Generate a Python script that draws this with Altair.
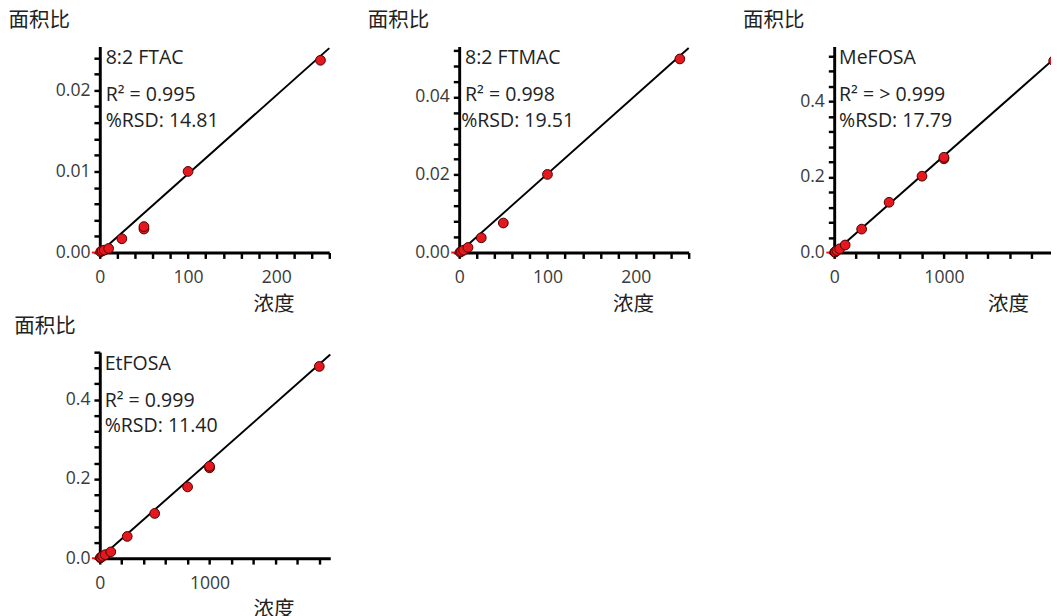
import altair as alt
import pandas as pd

# ---------------- data ----------------
names = ["8:2 FTAC", "8:2 FTMAC", "MeFOSA", "EtFOSA"]
r2_texts = ["R² = 0.995", "R² = 0.998", "R² = > 0.999", "R² = 0.999"]
rsd_texts = ["%RSD: 14.81", "%RSD: 19.51", "%RSD: 17.79", "%RSD: 11.40"]

ftac_conc = [1, 2.5, 5, 10, 25, 50, 50, 100, 250]
ftac_area = [0.0001, 0.0002, 0.0003, 0.0005, 0.0017, 0.0029, 0.0032, 0.0100, 0.0237]

ftmac_conc = [1, 2.5, 5, 10, 25, 50, 100, 250]
ftmac_area = [0.0001, 0.0003, 0.0006, 0.0013, 0.0038, 0.0076, 0.0201, 0.0498]

mefosa_conc = [5, 10, 25, 50, 100, 250, 500, 800, 1000, 1000, 2000]
mefosa_area = [0.001, 0.002, 0.005, 0.010, 0.020, 0.062, 0.133, 0.202, 0.248, 0.252, 0.507]

etfosa_conc = [5, 10, 25, 50, 100, 250, 500, 800, 1000, 1000, 2000]
etfosa_area = [0.001, 0.002, 0.005, 0.009, 0.016, 0.055, 0.113, 0.180, 0.228, 0.232, 0.484]

# fitted line end points
fit_x = [[0, 260], [0, 260], [0, 2100], [0, 2100]]
fit_y = [[0.0, 0.0252], [0.0, 0.0526], [0.0, 0.537], [0.0, 0.514]]

# short red segment left of the y axis at y = 0
zero_seg_start = [-9, -9, -72, -72]

x_domains = [[0, 260], [0, 260], [0, 2100], [0, 2100]]
y_domains = [[0, 0.0254], [0, 0.053], [0, 0.545], [0, 0.52]]
x_tick_vals = [[20 * i for i in range(14)], [20 * i for i in range(14)],
               [200 * i for i in range(11)], [200 * i for i in range(11)]]
x_major = [[0, 100, 200], [0, 100, 200], [0, 1000], [0, 1000]]
y_tick_vals = [[round(0.002 * i, 6) for i in range(13)],
               [round(0.004 * i, 6) for i in range(14)],
               [round(0.04 * i, 6) for i in range(14)],
               [round(0.04 * i, 6) for i in range(14)]]
y_major = [[0, 0.01, 0.02], [0, 0.02, 0.04], [0, 0.2, 0.4], [0, 0.2, 0.4]]
y_fmt = [".2f", ".2f", ".1f", ".1f"]

concs = [ftac_conc, ftmac_conc, mefosa_conc, etfosa_conc]
areas = [ftac_area, ftmac_area, mefosa_area, etfosa_area]

# ---------------- styling ----------------
LABEL_FONT = "Open Sans"
CJK_FONT = "Noto Sans CJK SC"
RED = "#e3191f"
W = [235, 235, 236, 236]
H = 211
title_x = [-94, -94, -94, -88]
text_dx = [[6, 6, 6], [6, 6, 2], [5, 5, 5], [5, 5, 5]]
text_y = [12, 50, 76]


def make_panel(i):
    xs = alt.Scale(domain=x_domains[i], nice=False, zero=False)
    ys = alt.Scale(domain=y_domains[i], nice=False, zero=False)
    xa = alt.Axis(
        values=x_tick_vals[i],
        labelExpr=f"indexof({x_major[i]}, datum.value) >= 0 ? format(datum.value, 'd') : ''",
        title="浓度", titleFont=CJK_FONT, titleFontSize=21, titleFontWeight="normal",
        titleColor="#222", titleAnchor="start", titleAlign="center", titleBaseline="middle",
        titleX=178, titleY=53,
        labelFont=LABEL_FONT, labelFontSize=18, labelColor="#3a3a3a", labelPadding=11,
        labelOverlap=False, labelFlush=False,
        domainColor="black", domainWidth=3, tickColor="black", tickWidth=2.5, tickSize=6,
        grid=False,
    )
    ya = alt.Axis(
        values=y_tick_vals[i],
        labelExpr=f"indexof({y_major[i]}, datum.value) >= 0 ? format(datum.value, '{y_fmt[i]}') : ''",
        title="面积比", titleFont=CJK_FONT, titleFontSize=21, titleFontWeight="normal",
        titleColor="#222", titleAngle=0, titleAlign="left", titleBaseline="middle",
        titleX=title_x[i], titleY=-26,
        labelFont=LABEL_FONT, labelFontSize=18, labelColor="#3a3a3a", labelPadding=4,
        labelOverlap=False, labelFlush=False,
        domainColor="black", domainWidth=3, tickColor="black", tickWidth=2.5, tickSize=6,
        grid=False,
    )

    pts = pd.DataFrame({"conc": concs[i], "area": areas[i]})
    fit = pd.DataFrame({"conc": fit_x[i], "area": fit_y[i]})
    seg = pd.DataFrame({"x0": [zero_seg_start[i]], "x1": [0], "y0": [0.0]})

    seg_layer = alt.Chart(seg).mark_rule(color=RED, strokeWidth=2).encode(
        x=alt.X("x0:Q", scale=xs, axis=xa), x2="x1:Q",
        y=alt.Y("y0:Q", scale=ys, axis=ya),
    )
    line_layer = alt.Chart(fit).mark_line(color="black", strokeWidth=2).encode(
        x=alt.X("conc:Q", scale=xs, axis=xa), y=alt.Y("area:Q", scale=ys, axis=ya)
    )
    pt_layer = alt.Chart(pts).mark_point(
        filled=True, fill=RED, stroke="#4a0000", strokeWidth=1, size=100, opacity=1,
        shape="circle"
    ).encode(
        x=alt.X("conc:Q", scale=xs, axis=xa), y=alt.Y("area:Q", scale=ys, axis=ya)
    )
    texts = []
    for k, t in enumerate([names[i], r2_texts[i], rsd_texts[i]]):
        texts.append(
            alt.Chart(pd.DataFrame({"t": [t]})).mark_text(
                align="left", baseline="middle", font=LABEL_FONT, fontSize=20, color="#222"
            ).encode(text="t:N", x=alt.value(text_dx[i][k]), y=alt.value(text_y[k]))
        )
    return alt.layer(seg_layer, line_layer, pt_layer, *texts).properties(width=W[i], height=H)


p1, p2, p3, p4 = [make_panel(i) for i in range(4)]

row1 = alt.hconcat(alt.hconcat(p1, p2, spacing=35), p3, spacing=51)
chart = alt.vconcat(row1, p4, spacing=2).properties(
    background="white", padding={"left": 0, "top": -5, "right": -18, "bottom": 0}
).configure_view(stroke=None)

chart.save("out.html", embed_options={"renderer": "svg", "actions": False})
